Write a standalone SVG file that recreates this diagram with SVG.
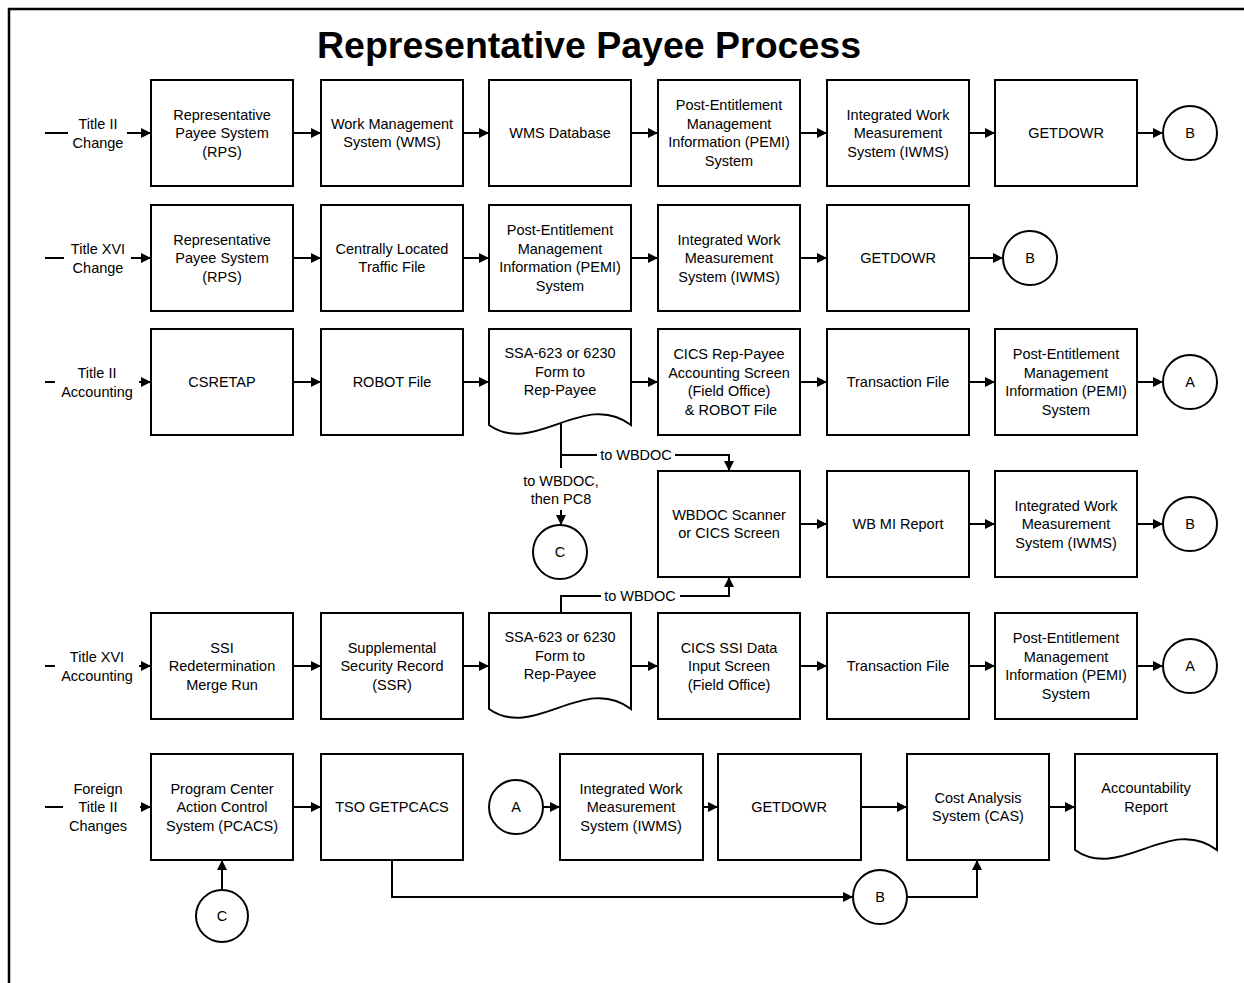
<svg xmlns="http://www.w3.org/2000/svg" width="1244" height="983" viewBox="0 0 1244 983">
  <style>
    .box { fill: #fff; stroke: #000; stroke-width: 2; }
    .conn { fill: none; stroke: #000; stroke-width: 2; }
    .t { font-family: "Liberation Sans", Arial, sans-serif; font-size: 14.5px; text-anchor: middle; fill: #000; }
    .title { font-family: "Liberation Sans", Arial, sans-serif; font-size: 37.5px; font-weight: bold; text-anchor: middle; fill: #000; }
  </style>
  <defs>
    <marker id="arrow" viewBox="0 0 10 10" refX="10" refY="5" markerWidth="10" markerHeight="10" markerUnits="userSpaceOnUse" orient="auto">
      <path d="M0,0 L10,5 L0,10 z" fill="#000"/>
    </marker>
  </defs>

  <rect width="1244" height="983" fill="#fff"/>
  <!-- page frame (top and left edges) -->
  <path d="M9 983 V9 H1244" fill="none" stroke="#000" stroke-width="2.5"/>

  <text class="title" x="589" y="58">Representative Payee Process</text>

  <!-- connectors -->
  <g id="connectors" class="conn" marker-end="url(#arrow)">
    <!-- row 1 -->
    <path d="M45 133 H68" marker-end="none"/>
    <path d="M127 133 H151"/>
    <path d="M293 133 H321"/>
    <path d="M463 133 H489"/>
    <path d="M631 133 H658"/>
    <path d="M800 133 H827"/>
    <path d="M969 133 H995"/>
    <path d="M1137 133 H1163"/>
    <!-- row 2 -->
    <path d="M45 258 H64" marker-end="none"/>
    <path d="M131 258 H151"/>
    <path d="M293 258 H321"/>
    <path d="M463 258 H489"/>
    <path d="M631 258 H658"/>
    <path d="M800 258 H827"/>
    <path d="M969 258 H1003"/>
    <!-- row 3 -->
    <path d="M45 382 H55" marker-end="none"/>
    <path d="M139 382 H151"/>
    <path d="M293 382 H321"/>
    <path d="M463 382 H489"/>
    <path d="M631 382 H658"/>
    <path d="M800 382 H827"/>
    <path d="M969 382 H995"/>
    <path d="M1137 382 H1163"/>
    <!-- form branches to WBDOC and PC8 -->
    <path d="M561 423 V468" marker-end="none"/>
    <path d="M561 510 V525"/>
    <path d="M561 455 H597" marker-end="none"/>
    <path d="M675 455 H729 V471"/>
    <path d="M561 613 V596 H601" marker-end="none"/>
    <path d="M680 596 H729 V577"/>
    <!-- row 4 -->
    <path d="M800 524 H827"/>
    <path d="M969 524 H995"/>
    <path d="M1137 524 H1163"/>
    <!-- row 5 -->
    <path d="M45 666 H55" marker-end="none"/>
    <path d="M139 666 H151"/>
    <path d="M293 666 H321"/>
    <path d="M463 666 H489"/>
    <path d="M631 666 H658"/>
    <path d="M800 666 H827"/>
    <path d="M969 666 H995"/>
    <path d="M1137 666 H1163"/>
    <!-- row 6 -->
    <path d="M45 807 H63" marker-end="none"/>
    <path d="M140 807 H151"/>
    <path d="M293 807 H321"/>
    <path d="M543 807 H560"/>
    <path d="M703 807 H718"/>
    <path d="M861 807 H907"/>
    <path d="M1049 807 H1075"/>
    <path d="M392 860 V897 H853"/>
    <path d="M907 897 H977 V860"/>
    <path d="M222 890 V860"/>
  </g>

  <!-- connector labels -->
  <g id="connector-labels">
    <text class="t" x="636" y="460">to WBDOC</text>
    <text class="t" x="561" y="486">to WBDOC,</text>
    <text class="t" x="561" y="504">then PC8</text>
    <text class="t" x="640" y="601">to WBDOC</text>
  </g>

  <!-- row entry labels -->
  <g id="entry-labels">
    <text class="t" x="98" y="129">Title II<tspan x="98" dy="18.5">Change</tspan></text>
    <text class="t" x="98" y="254">Title XVI<tspan x="98" dy="18.5">Change</tspan></text>
    <text class="t" x="97" y="378">Title II<tspan x="97" dy="18.5">Accounting</tspan></text>
    <text class="t" x="97" y="662">Title XVI<tspan x="97" dy="18.5">Accounting</tspan></text>
    <text class="t" x="98" y="793.5">Foreign<tspan x="98" dy="18.5">Title II</tspan><tspan x="98" dy="18.5">Changes</tspan></text>
  </g>

  <!-- row 1: Title II change -->
  <g id="r1-rps"><rect class="box" x="151" y="80" width="142" height="106"/>
    <text class="t" x="222" y="119.5">Representative<tspan x="222" dy="18.5">Payee System</tspan><tspan x="222" dy="18.5">(RPS)</tspan></text></g>
  <g id="r1-wms"><rect class="box" x="321" y="80" width="142" height="106"/>
    <text class="t" x="392" y="128.75">Work Management<tspan x="392" dy="18.5">System (WMS)</tspan></text></g>
  <g id="r1-wmsdb"><rect class="box" x="489" y="80" width="142" height="106"/>
    <text class="t" x="560" y="138">WMS Database</text></g>
  <g id="r1-pemi"><rect class="box" x="658" y="80" width="142" height="106"/>
    <text class="t" x="729" y="110.25">Post-Entitlement<tspan x="729" dy="18.5">Management</tspan><tspan x="729" dy="18.5">Information (PEMI)</tspan><tspan x="729" dy="18.5">System</tspan></text></g>
  <g id="r1-iwms"><rect class="box" x="827" y="80" width="142" height="106"/>
    <text class="t" x="898" y="119.5">Integrated Work<tspan x="898" dy="18.5">Measurement</tspan><tspan x="898" dy="18.5">System (IWMS)</tspan></text></g>
  <g id="r1-getdowr"><rect class="box" x="995" y="80" width="142" height="106"/>
    <text class="t" x="1066" y="138">GETDOWR</text></g>
  <g id="r1-b"><circle class="box" cx="1190" cy="133" r="27"/>
    <text class="t" x="1190" y="138">B</text></g>

  <!-- row 2: Title XVI change -->
  <g id="r2-rps"><rect class="box" x="151" y="205" width="142" height="106"/>
    <text class="t" x="222" y="244.5">Representative<tspan x="222" dy="18.5">Payee System</tspan><tspan x="222" dy="18.5">(RPS)</tspan></text></g>
  <g id="r2-traffic"><rect class="box" x="321" y="205" width="142" height="106"/>
    <text class="t" x="392" y="253.75">Centrally Located<tspan x="392" dy="18.5">Traffic File</tspan></text></g>
  <g id="r2-pemi"><rect class="box" x="489" y="205" width="142" height="106"/>
    <text class="t" x="560" y="235.25">Post-Entitlement<tspan x="560" dy="18.5">Management</tspan><tspan x="560" dy="18.5">Information (PEMI)</tspan><tspan x="560" dy="18.5">System</tspan></text></g>
  <g id="r2-iwms"><rect class="box" x="658" y="205" width="142" height="106"/>
    <text class="t" x="729" y="244.5">Integrated Work<tspan x="729" dy="18.5">Measurement</tspan><tspan x="729" dy="18.5">System (IWMS)</tspan></text></g>
  <g id="r2-getdowr"><rect class="box" x="827" y="205" width="142" height="106"/>
    <text class="t" x="898" y="263">GETDOWR</text></g>
  <g id="r2-b"><circle class="box" cx="1030" cy="258" r="27"/>
    <text class="t" x="1030" y="263">B</text></g>

  <!-- row 3: Title II accounting -->
  <g id="r3-csretap"><rect class="box" x="151" y="329" width="142" height="106"/>
    <text class="t" x="222" y="387">CSRETAP</text></g>
  <g id="r3-robot"><rect class="box" x="321" y="329" width="142" height="106"/>
    <text class="t" x="392" y="387">ROBOT File</text></g>
  <g id="r3-form"><path class="box" d="M489 329 H631 V425 C584 389 534 457 489 425 Z"/>
    <text class="t" x="560" y="358">SSA-623 or 6230<tspan x="560" dy="18.5">Form to</tspan><tspan x="560" dy="18.5">Rep-Payee</tspan></text></g>
  <g id="r3-cics"><rect class="box" x="658" y="329" width="142" height="106"/>
    <text class="t" x="729" y="359.25">CICS Rep-Payee<tspan x="729" dy="18.5">Accounting Screen</tspan><tspan x="729" dy="18.5">(Field Office)</tspan><tspan x="731" dy="18.5">&amp; ROBOT File</tspan></text></g>
  <g id="r3-transaction"><rect class="box" x="827" y="329" width="142" height="106"/>
    <text class="t" x="898" y="387">Transaction File</text></g>
  <g id="r3-pemi"><rect class="box" x="995" y="329" width="142" height="106"/>
    <text class="t" x="1066" y="359.25">Post-Entitlement<tspan x="1066" dy="18.5">Management</tspan><tspan x="1066" dy="18.5">Information (PEMI)</tspan><tspan x="1066" dy="18.5">System</tspan></text></g>
  <g id="r3-a"><circle class="box" cx="1190" cy="382" r="27"/>
    <text class="t" x="1190" y="387">A</text></g>
  <g id="c-mid"><circle class="box" cx="560" cy="552" r="27"/>
    <text class="t" x="560" y="557">C</text></g>

  <!-- row 4: WBDOC -->
  <g id="r4-wbdoc"><rect class="box" x="658" y="471" width="142" height="106"/>
    <text class="t" x="729" y="519.75">WBDOC Scanner<tspan x="729" dy="18.5">or CICS Screen</tspan></text></g>
  <g id="r4-wbmi"><rect class="box" x="827" y="471" width="142" height="106"/>
    <text class="t" x="898" y="529">WB MI Report</text></g>
  <g id="r4-iwms"><rect class="box" x="995" y="471" width="142" height="106"/>
    <text class="t" x="1066" y="510.5">Integrated Work<tspan x="1066" dy="18.5">Measurement</tspan><tspan x="1066" dy="18.5">System (IWMS)</tspan></text></g>
  <g id="r4-b"><circle class="box" cx="1190" cy="524" r="27"/>
    <text class="t" x="1190" y="529">B</text></g>

  <!-- row 5: Title XVI accounting -->
  <g id="r5-ssi"><rect class="box" x="151" y="613" width="142" height="106"/>
    <text class="t" x="222" y="652.5">SSI<tspan x="222" dy="18.5">Redetermination</tspan><tspan x="222" dy="18.5">Merge Run</tspan></text></g>
  <g id="r5-ssr"><rect class="box" x="321" y="613" width="142" height="106"/>
    <text class="t" x="392" y="652.5">Supplemental<tspan x="392" dy="18.5">Security Record</tspan><tspan x="392" dy="18.5">(SSR)</tspan></text></g>
  <g id="r5-form"><path class="box" d="M489 613 H631 V709 C584 673 534 741 489 709 Z"/>
    <text class="t" x="560" y="642">SSA-623 or 6230<tspan x="560" dy="18.5">Form to</tspan><tspan x="560" dy="18.5">Rep-Payee</tspan></text></g>
  <g id="r5-cics"><rect class="box" x="658" y="613" width="142" height="106"/>
    <text class="t" x="729" y="652.5">CICS SSI Data<tspan x="729" dy="18.5">Input Screen</tspan><tspan x="729" dy="18.5">(Field Office)</tspan></text></g>
  <g id="r5-transaction"><rect class="box" x="827" y="613" width="142" height="106"/>
    <text class="t" x="898" y="671">Transaction File</text></g>
  <g id="r5-pemi"><rect class="box" x="995" y="613" width="142" height="106"/>
    <text class="t" x="1066" y="643.25">Post-Entitlement<tspan x="1066" dy="18.5">Management</tspan><tspan x="1066" dy="18.5">Information (PEMI)</tspan><tspan x="1066" dy="18.5">System</tspan></text></g>
  <g id="r5-a"><circle class="box" cx="1190" cy="666" r="27"/>
    <text class="t" x="1190" y="671">A</text></g>

  <!-- row 6: foreign Title II changes -->
  <g id="r6-pcacs"><rect class="box" x="151" y="754" width="142" height="106"/>
    <text class="t" x="222" y="793.5">Program Center<tspan x="222" dy="18.5">Action Control</tspan><tspan x="222" dy="18.5">System (PCACS)</tspan></text></g>
  <g id="r6-tso"><rect class="box" x="321" y="754" width="142" height="106"/>
    <text class="t" x="392" y="812">TSO GETPCACS</text></g>
  <g id="r6-a"><circle class="box" cx="516" cy="807" r="27"/>
    <text class="t" x="516" y="812">A</text></g>
  <g id="r6-iwms"><rect class="box" x="560" y="754" width="143" height="106"/>
    <text class="t" x="631" y="793.5">Integrated Work<tspan x="631" dy="18.5">Measurement</tspan><tspan x="631" dy="18.5">System (IWMS)</tspan></text></g>
  <g id="r6-getdowr"><rect class="box" x="718" y="754" width="143" height="106"/>
    <text class="t" x="789" y="812">GETDOWR</text></g>
  <g id="r6-cas"><rect class="box" x="907" y="754" width="142" height="106"/>
    <text class="t" x="978" y="802.75">Cost Analysis<tspan x="978" dy="18.5">System (CAS)</tspan></text></g>
  <g id="r6-report"><path class="box" d="M1075 754 H1217 V850 C1170 814 1120 882 1075 850 Z"/>
    <text class="t" x="1146" y="793">Accountability<tspan x="1146" dy="18.5">Report</tspan></text></g>
  <g id="r6-b"><circle class="box" cx="880" cy="897" r="27"/>
    <text class="t" x="880" y="902">B</text></g>
  <g id="c-bottom"><circle class="box" cx="222" cy="916" r="26"/>
    <text class="t" x="222" y="921">C</text></g>
</svg>
